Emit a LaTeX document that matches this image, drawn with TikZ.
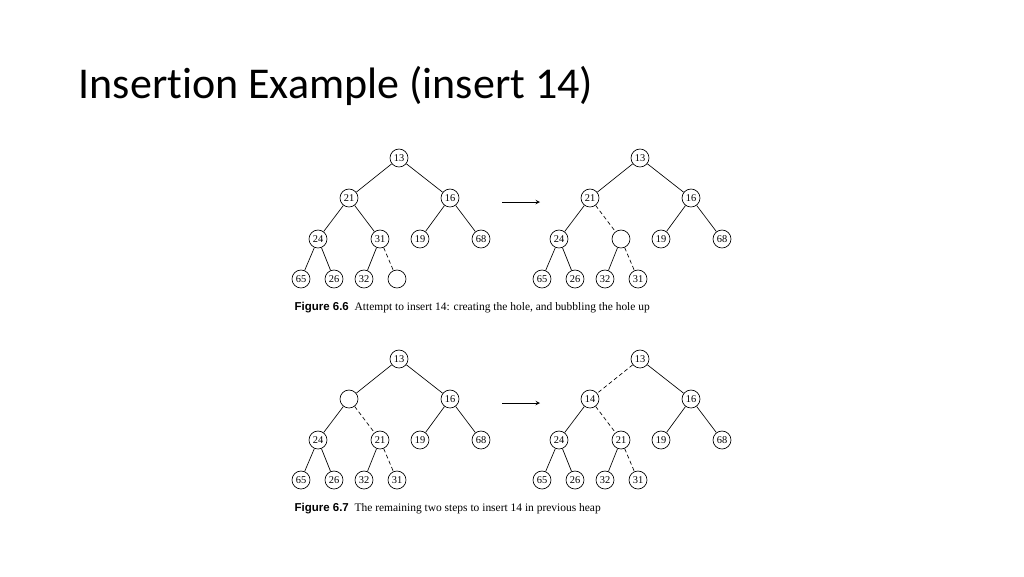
\documentclass[tikz,border=0pt]{standalone}
\usepackage{fontspec}
\setmainfont{Liberation Serif}
\newfontfamily\titlefont[Ligatures={NoCommon,NoDiscretionary,NoContextual}]{Carlito}
\newfontfamily\capsans{Liberation Sans}
\begin{document}
\begin{tikzpicture}[x=0.75pt,y=-0.75pt,
  hn/.style={circle,draw,line width=0.5pt,minimum size=13.5pt,inner sep=0pt,font=\fontsize{7.8}{8}\selectfont},
  ed/.style={line width=0.5pt},
  dd/.style={line width=0.5pt,densely dashed}]
\useasboundingbox (0,0) rectangle (1024,576);
\node[anchor=west,font=\titlefont\fontsize{33}{38}\selectfont] (title) at (74,86) {Insertion Example (insert 14)};
\newcommand\mytree[9]{%
\begin{scope}[shift={(#1,#2)}]
\node[hn] (#3r) at (0,0) {13};
\node[hn] (#3a) at (-50,40) {#4};
\node[hn] (#3b) at (51,40) {16};
\node[hn] (#3c) at (-81,81) {24};
\node[hn] (#3d) at (-19,81) {#5};
\node[hn] (#3e) at (21,81) {19};
\node[hn] (#3f) at (82,81) {68};
\node[hn] (#3g) at (-98,121) {65};
\node[hn] (#3h) at (-65,121) {26};
\node[hn] (#3i) at (-35,121) {32};
\node[hn] (#3j) at (-2,121) {#6};
\draw[#7] (#3r)--(#3a);
\draw[ed] (#3r)--(#3b);
\draw[ed] (#3a)--(#3c);
\draw[#8] (#3a)--(#3d);
\draw[ed] (#3b)--(#3e);
\draw[ed] (#3b)--(#3f);
\draw[ed] (#3c)--(#3g);
\draw[ed] (#3c)--(#3h);
\draw[ed] (#3d)--(#3i);
\draw[#9] (#3d)--(#3j);
\end{scope}}
\mytree{399}{158}{A}{21}{31}{}{ed}{ed}{dd}
\mytree{640}{158}{B}{21}{}{31}{ed}{dd}{dd}
\mytree{399}{359}{C}{}{21}{31}{ed}{dd}{dd}
\mytree{640}{359}{D}{14}{21}{31}{dd}{dd}{dd}
\coordinate (p1) at (502,202); \coordinate (q1) at (540,202);
\draw[ed,-stealth] (p1)--(q1);
\coordinate (p2) at (502,403); \coordinate (q2) at (540,403);
\draw[ed,-stealth] (p2)--(q2);
\node[anchor=west,font=\fontsize{8.6}{10}\selectfont] (cap1) at (290,308) {{\capsans\bfseries Figure 6.6}\enspace Attempt to insert 14: creating the hole, and bubbling the hole up};
\node[anchor=west,font=\fontsize{8.6}{10}\selectfont] (cap2) at (290,509) {{\capsans\bfseries Figure 6.7}\enspace The remaining two steps to insert 14 in previous heap};
\end{tikzpicture}
\end{document}
